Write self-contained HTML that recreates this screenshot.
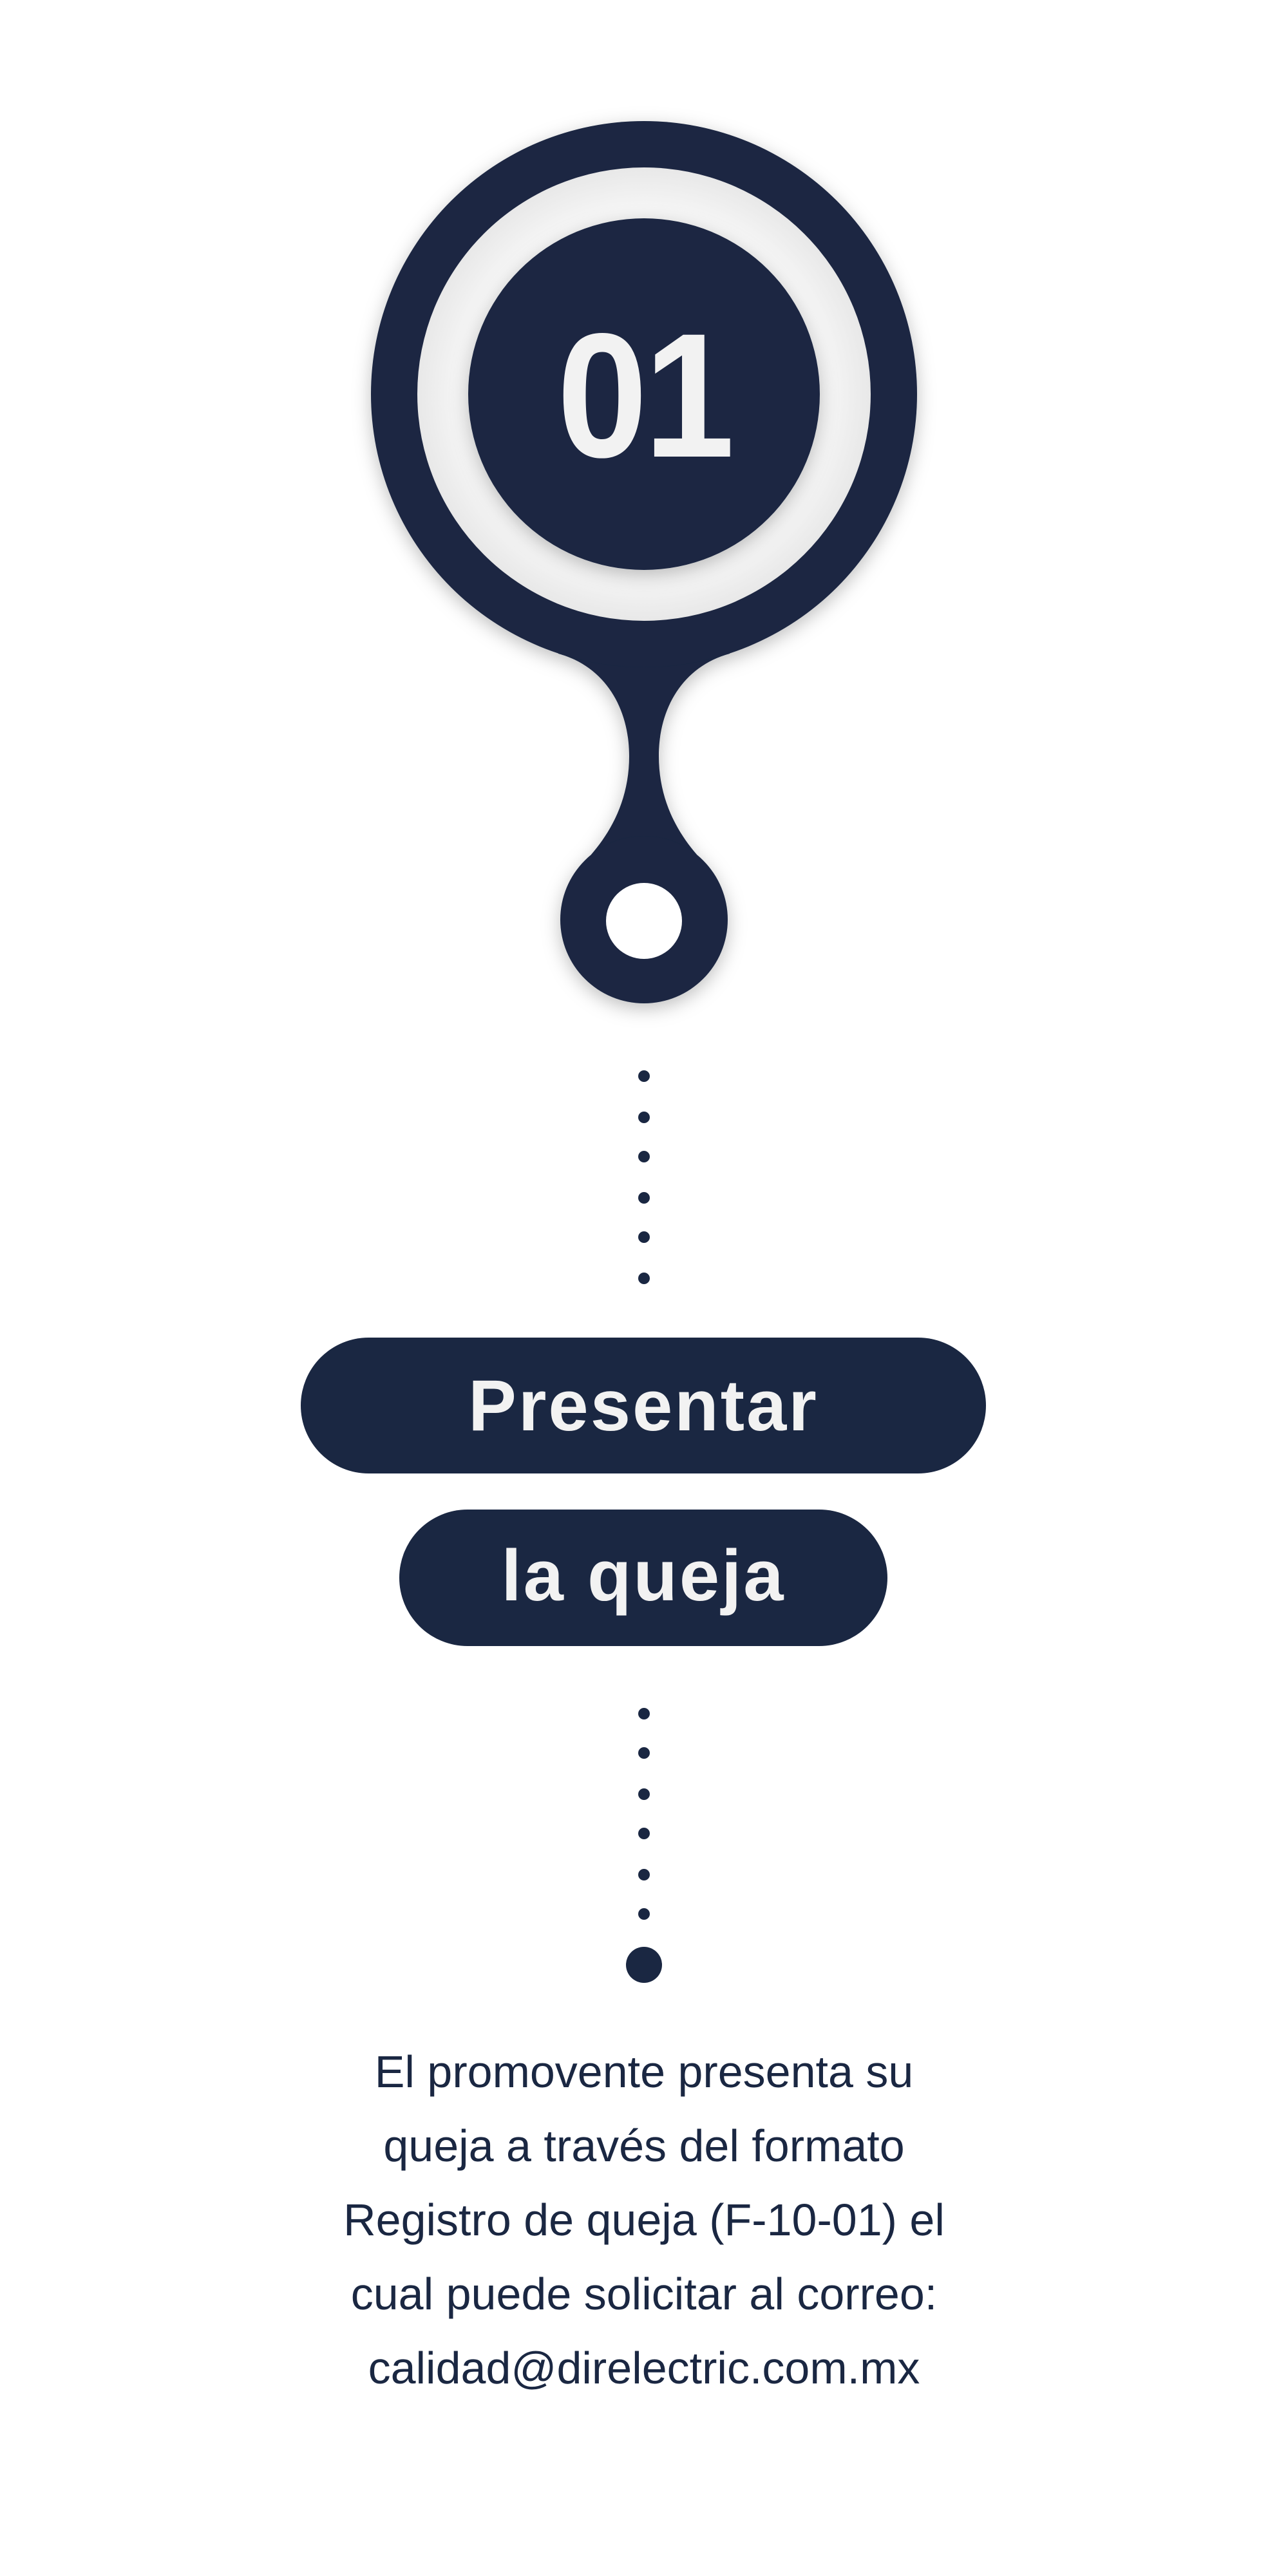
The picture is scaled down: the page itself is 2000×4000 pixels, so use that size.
<!DOCTYPE html>
<html><head><meta charset="utf-8"><style>
html,body{margin:0;padding:0;background:#fff;}
body{width:2000px;height:4000px;position:relative;overflow:hidden;font-family:"Liberation Sans",sans-serif;}
.pill{position:absolute;background:#1a2742;border-radius:110px;color:#f2f2f2;font-weight:bold;text-align:center;}
.txt{position:absolute;left:0;width:2000px;top:3160px;text-align:center;color:#1a2742;font-size:70px;line-height:115px;}
</style></head><body>
<svg width="2000" height="4000" style="position:absolute;left:0;top:0">
<defs>
<filter id="sh" x="-20%" y="-20%" width="140%" height="140%"><feDropShadow dx="0" dy="8" stdDeviation="14" flood-color="#000" flood-opacity="0.25"/></filter>
<radialGradient id="rg" cx="50%" cy="50%" r="50%"><stop offset="0.75" stop-color="#fafafa"/><stop offset="1" stop-color="#e8e8e8"/></radialGradient>
</defs>
<g fill="#1a2742" filter="url(#sh)">
<path d="M867 990 L867 1015 C940 1035 977 1100 977 1174 C977 1240 950 1290 918 1327 L940 1420 L1060 1420 L1082 1327 C1050 1290 1023 1240 1023 1174 C1023 1100 1060 1035 1133 1015 L1133 990 Z"/>
<circle cx="1000" cy="612" r="424"/>
<circle cx="1000" cy="1428" r="130"/>
</g>
<circle cx="1000" cy="612" r="352" fill="url(#rg)"/>
<circle cx="1000" cy="612" r="273" fill="#1a2742" filter="url(#sh)"/>
<text x="1000" y="709" text-anchor="middle" font-family="Liberation Sans" font-weight="bold" font-size="275" fill="#f2f2f2" letter-spacing="-6" transform="translate(1000 0) scale(0.92 1) translate(-1000 0)">01</text>
<circle cx="1000" cy="1430" r="59" fill="#fff"/>
<g fill="#1a2742">
<circle cx="1000" cy="1671" r="9"/><circle cx="1000" cy="1735" r="9"/><circle cx="1000" cy="1796" r="9"/><circle cx="1000" cy="1860" r="9"/><circle cx="1000" cy="1921" r="9"/><circle cx="1000" cy="1985" r="9"/>
<circle cx="1000" cy="2661" r="9"/><circle cx="1000" cy="2722" r="9"/><circle cx="1000" cy="2786" r="9"/><circle cx="1000" cy="2847" r="9"/><circle cx="1000" cy="2911" r="9"/><circle cx="1000" cy="2972" r="9"/>
<circle cx="1000" cy="3051" r="28"/>
</g>
</svg>
<div class="pill" style="left:467px;top:2077px;width:1064px;height:211px;line-height:211px;font-size:112px;letter-spacing:3px;">Presentar</div>
<div class="pill" style="left:620px;top:2344px;width:758px;height:212px;line-height:205px;font-size:112px;letter-spacing:3px;">la queja</div>
<div class="txt">El promovente presenta su<br>queja a través del formato<br>Registro de queja (F-10-01) el<br>cual puede solicitar al correo:<br>calidad@direlectric.com.mx</div>
</body></html>
